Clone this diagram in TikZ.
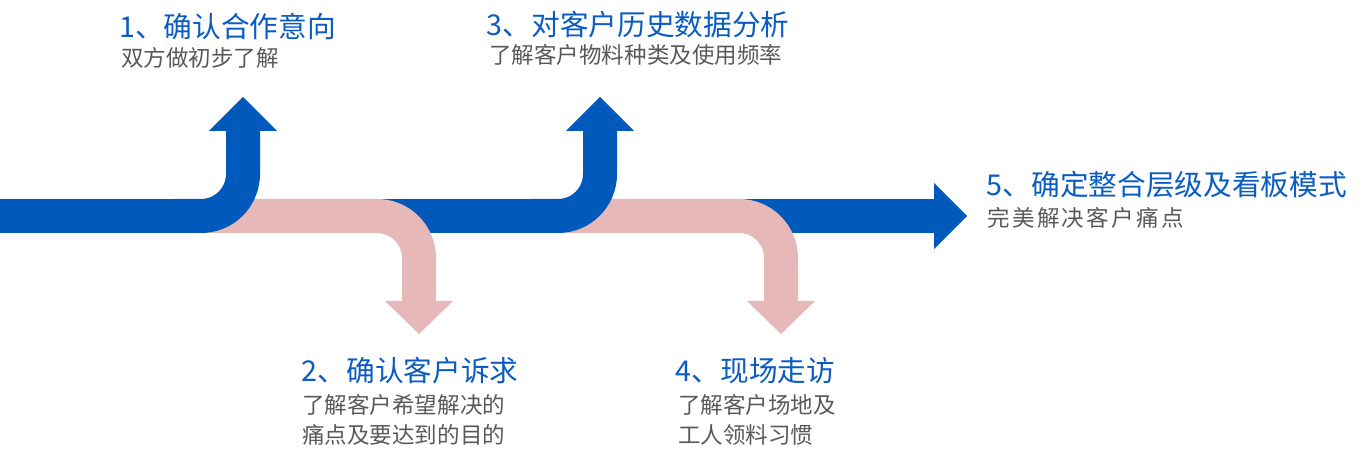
\documentclass[tikz,border=0pt]{standalone}
\usepackage{fontspec}
\setmainfont{Noto Sans CJK SC}
\definecolor{arrowblue}{HTML}{0059BB}
\definecolor{titleblue}{HTML}{0A5CC2}
\definecolor{arrowpink}{HTML}{E6B8B7}
\definecolor{textgray}{HTML}{595959}
% each character in a cell of fixed width (spaced-out text)
\def\cellloop#1{\ifx\relax#1\else\makebox[\cellw]{#1}\expandafter\cellloop\fi}
\newcommand\cells[2]{\def\cellw{#1}\cellloop#2\relax}
\begin{document}
\begin{tikzpicture}[x=0.75pt,y=0.75pt,
  bandline/.style={line width=25.5pt,line cap=butt},
  bluearrow/.style={bandline,draw=arrowblue},
  pinkarrow/.style={bandline,draw=arrowpink},
  title/.style={anchor=base west,inner sep=0pt,text=titleblue,font=\fontsize{21.5}{25}\selectfont},
  sub/.style={anchor=base west,inner sep=0pt,text=textgray,font=\fontsize{16.9}{22.5}\selectfont}]
\useasboundingbox (0,0) rectangle (1371,452);
% main band with final arrow head
\coordinate (start) at (0,236);
\coordinate (bandend) at (934,236);
\draw[bluearrow] (start) -- (bandend);
\fill[arrowblue] (934,269) -- (967,236) -- (934,203) -- cycle;
% pink down arrows (each starts under the preceding blue up arrow)
\foreach \p/\s in {419/201,781/558}{
  \draw[pinkarrow] (\s,236) -- (\p-42,236) arc[start angle=90,end angle=0,radius=42] -- (\p,151);
  \fill[arrowpink] (\p-34,151) -- (\p+34,151) -- (\p,118) -- cycle;
}
% blue up arrows
\foreach \c in {243,600}{
  \draw[bluearrow] (\c-70,236) -- (\c-42,236) arc[start angle=-90,end angle=0,radius=42] -- (\c,321);
  \fill[arrowblue] (\c-34,321) -- (\c+34,321) -- (\c,355) -- cycle;
}
% texts
\node[title] (t1) at (119,414.5) {1、确认合作意向};
\node[sub] (s1) at (121,385.5) {双方做初步了解};
\node[title] (t3) at (486.5,416) {3、对客户历史数据分析};
\node[sub] (s3) at (489,388.5) {了解客户物料种类及使用频率};
\node[title] (t5) at (986.5,256) {5、确定整合层级及看板模式};
\node[sub] (s5) at (986,225.5) {\cells{18.64pt}{完美解决客户痛点}};
\node[title] (t2) at (301.5,70) {2、确认客户诉求};
\node[sub] (s2a) at (302,38.5) {了解客户希望解决的};
\node[sub] (s2b) at (302,8.5) {痛点及要达到的目的};
\node[title] (t4) at (675.5,70) {4、现场走访};
\node[sub] (s4a) at (678,38.5) {了解客户场地及};
\node[sub] (s4b) at (678,8.5) {工人领料习惯};
\end{tikzpicture}
\end{document}
